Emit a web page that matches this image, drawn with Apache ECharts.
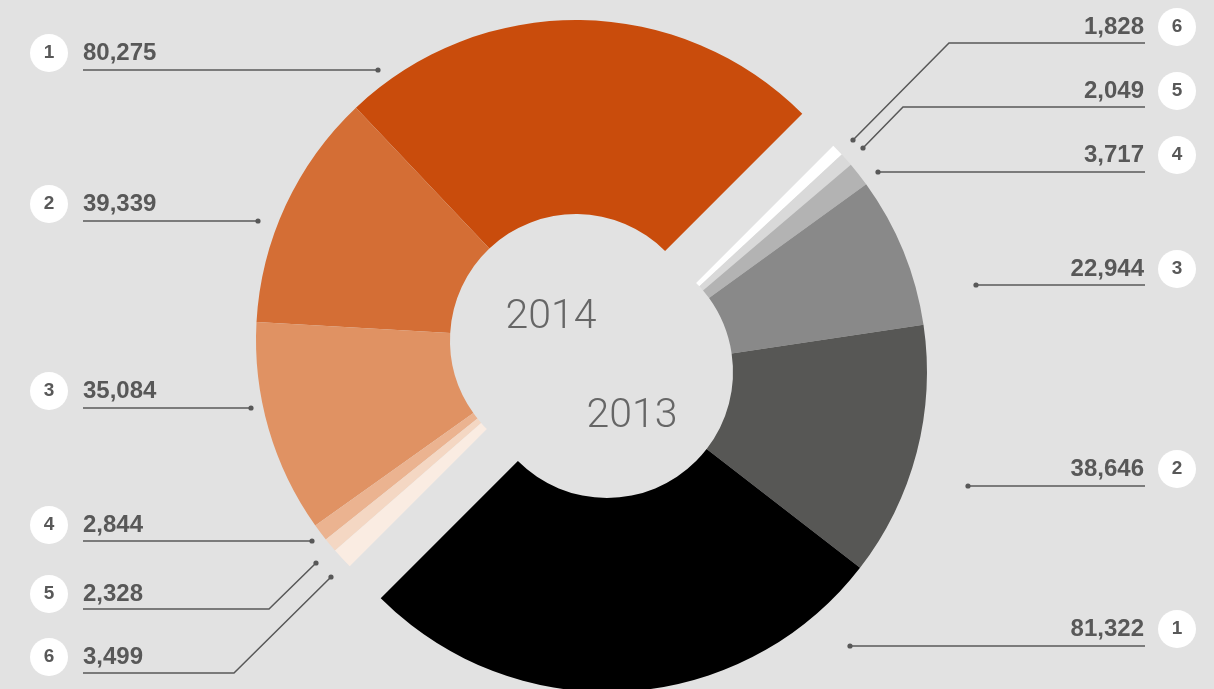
<!DOCTYPE html>
<html><head><meta charset="utf-8">
<script src="https://cdn.jsdelivr.net/npm/echarts@6/dist/echarts.min.js"></script>
<style>html,body{margin:0;padding:0;background:#e2e2e2;}#c{width:1214px;height:689px;}</style>
</head><body><div id="c"></div>
<script>
// ---- data ----
const ranks = ['1', '2', '3', '4', '5', '6'];
const values2014 = [80275, 39339, 35084, 2844, 2328, 3499];
const values2013 = [81322, 38646, 22944, 3717, 2049, 1828];
const yearLabels = ['2014', '2013'];
const colors2014 = ['#c94c0c', '#d46e35', '#e09263', '#ebb390', '#f4d7c3', '#faece2'];
const colors2013 = ['#000000', '#575755', '#898989', '#b3b3b3', '#d9d9d9', '#ffffff'];

// ---- annotation layout (indexed by rank 1..6) ----
const leftLayout = {
  textY: [53, 204, 391, 525, 594, 657],
  lineY: [70, 221, 408, 541, 609, 673],
  dot: [[378, 70], [258, 221], [251, 408], [312, 541], [316, 563], [331, 577]],
  elbowX: [378, 258, 251, 312, 269, 234],
  textX: 30, lineEndX: 83
};
const rightLayout = {
  textY: [629, 469, 269, 155, 91, 27],
  lineY: [646, 486, 285, 172, 107, 43],
  dot: [[850, 646], [968, 486], [976, 285], [878, 172], [863, 148], [853, 140]],
  elbowX: [850, 968, 976, 878, 903, 949],
  textX: 1196, lineEndX: 1145
};

const fmt = v => v.toLocaleString('en-US');
const sum = a => a.reduce((s, v) => s + v, 0);
const ink = '#585858';
const font = 'Liberation Sans, Arial, sans-serif';

// 2014 goes counter-clockwise in rank order, 2013 clockwise in reverse rank order
const order2013 = [5, 4, 3, 2, 1, 0];

function makeData(values, colors, order) {
  const d = order.map(i => ({ name: ranks[i], value: values[i], itemStyle: { color: colors[i] } }));
  d.push({ name: '', value: sum(values), itemStyle: { color: 'rgba(0,0,0,0)' },
           label: { show: false }, labelLine: { show: false } });
  return d;
}

const richStyles = {
  b: { width: 38, height: 38, borderRadius: 19, backgroundColor: '#ffffff', align: 'center',
       fontSize: 19, fontWeight: 'bold', color: ink, lineHeight: 38, fontFamily: font },
  vl: { fontSize: 24, fontWeight: 'bold', color: ink, padding: [0, 0, 0, 15], fontFamily: font },
  vr: { fontSize: 24, fontWeight: 'bold', color: ink, padding: [0, 14, 0, 0], fontFamily: font }
};

function layoutFor(L, side, rankIndexOf) {
  return function (p) {
    const r = rankIndexOf(p.dataIndex);
    if (r == null || r > 5) return {};
    const d = L.dot[r];
    return {
      x: L.textX, y: L.textY[r], align: side, verticalAlign: 'middle',
      labelLinePoints: [[d[0], d[1]], [L.elbowX[r], L.lineY[r]], [L.lineEndX, L.lineY[r]]]
    };
  };
}

const baseSeries = {
  type: 'pie', radius: [126, 320], startAngle: 45, animation: false, silent: true,
  emphasis: { disabled: true },
  itemStyle: { borderWidth: 0 },
  labelLine: { show: true, length: 0, length2: 0, smooth: false, lineStyle: { color: ink, width: 1.5 } }
};

const dots = [];
[leftLayout, rightLayout].forEach(L => L.dot.forEach(d => dots.push({
  type: 'circle', shape: { cx: d[0], cy: d[1], r: 2.6 }, style: { fill: ink }, z: 100
})));

const option = {
  backgroundColor: '#e2e2e2',
  series: [
    Object.assign({}, baseSeries, {
      name: yearLabels[0], center: [576, 340], clockwise: false,
      data: makeData(values2014, colors2014, [0, 1, 2, 3, 4, 5]),
      label: { show: true, position: 'outside', rich: richStyles,
               formatter: p => '{b|' + p.name + '}{vl|' + fmt(p.value) + '}' },
      labelLayout: layoutFor(leftLayout, 'left', i => i)
    }),
    Object.assign({}, baseSeries, {
      name: yearLabels[1], center: [607, 372], clockwise: true,
      data: makeData(values2013, colors2013, order2013),
      label: { show: true, position: 'outside', rich: richStyles,
               formatter: p => '{vr|' + fmt(p.value) + '}{b|' + p.name + '}' },
      labelLayout: layoutFor(rightLayout, 'right', i => (i < 6 ? order2013[i] : null))
    })
  ],
  graphic: dots.concat([
    { type: 'text', x: 551, y: 318, style: { text: yearLabels[0], fontSize: 41, fontWeight: 300,
      fontFamily: 'Roboto, Liberation Sans, sans-serif', fill: '#666', align: 'center', verticalAlign: 'middle' } },
    { type: 'text', x: 632, y: 417, style: { text: yearLabels[1], fontSize: 41, fontWeight: 300,
      fontFamily: 'Roboto, Liberation Sans, sans-serif', fill: '#666', align: 'center', verticalAlign: 'middle' } }
  ])
};

const chart = echarts.init(document.getElementById('c'), null, { renderer: 'canvas' });
chart.setOption(option);
</script>
</body></html>
